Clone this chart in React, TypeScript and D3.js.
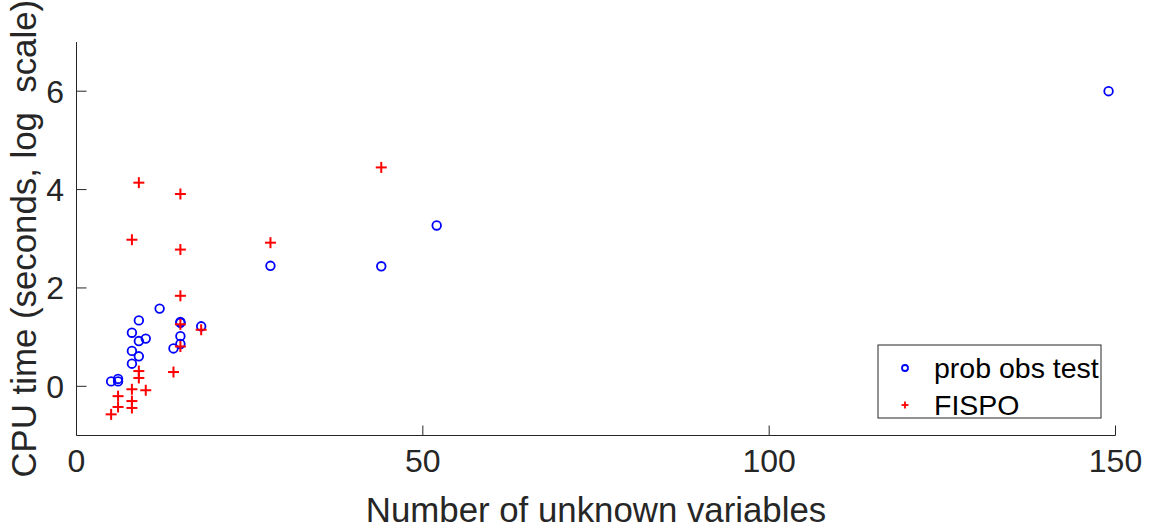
import React from "react";
import * as d3 from "d3";

const probX = [5, 6, 6, 8, 8, 8, 9, 9, 9, 10, 12, 14, 15, 15, 15, 15, 18, 28, 44, 52, 149];
const probY = [0.10, 0.15, 0.10, 1.09, 0.72, 0.46, 1.34, 0.92, 0.61, 0.97, 1.58, 0.77, 1.31, 1.29, 1.02, 0.86, 1.22, 2.45, 2.44, 3.27, 6.0];

const fispoX = [5, 6, 6, 8, 8, 8, 8, 9, 9, 9, 10, 14, 15, 15, 15, 15, 15, 18, 28, 44];
const fispoY = [-0.57, -0.2, -0.42, 2.98, -0.06, -0.3, -0.44, 4.14, 0.31, 0.17, -0.08, 0.29, 3.91, 2.78, 1.84, 1.26, 0.81, 1.15, 2.92, 4.45];

const xTicks = [0, 50, 100, 150];
const yTicks = [0, 2, 4, 6];
const legendLabels = ["prob obs test", "FISPO"];

const W = 1151;
const H = 530;
const L = 76.5, R = 1115.5, T = 42, B = 435.5;
const axisColor = "#262626";
const font = "'Liberation Sans', Arial, Helvetica, sans-serif";

export default function App() {
  const x = d3.scaleLinear().domain([0, 150]).range([L, R]);
  const y = d3.scaleLinear().domain([-1, 7]).range([B, T]);
  const pts1 = d3.zip(probX, probY);
  const pts2 = d3.zip(fispoX, fispoY);
  const ps = 5.5;
  const lx = 905;
  return (
    <svg width={W} height={H} style={{ position: "absolute", left: 0, top: 0 }} fontFamily={font}>
      <rect width={W} height={H} fill="#fff" />
      {/* axes */}
      <line x1={L} x2={L} y1={T} y2={B} stroke={axisColor} strokeWidth={1} />
      <line x1={L} x2={R} y1={B} y2={B} stroke={axisColor} strokeWidth={1} />
      {xTicks.map((t) => (
        <g key={"x" + t}>
          <line x1={x(t)} x2={x(t)} y1={B} y2={B - 10} stroke={axisColor} strokeWidth={1} />
          <text x={x(t)} y={472} textAnchor="middle" fontSize={32} fill={axisColor}>{t}</text>
        </g>
      ))}
      {yTicks.map((t) => (
        <g key={"y" + t}>
          <line x1={L} x2={L + 10} y1={y(t)} y2={y(t)} stroke={axisColor} strokeWidth={1} />
          <text x={64} y={y(t)} dy="0.36em" textAnchor="end" fontSize={32} fill={axisColor}>{t}</text>
        </g>
      ))}
      <text x={(L + R) / 2} y={522} textAnchor="middle" fontSize={34.8} fill={axisColor}>Number of unknown variables</text>
      <text transform={`translate(36,${(T + B) / 2}) rotate(-90)`} textAnchor="middle" fontSize={34.8} fill={axisColor} style={{ whiteSpace: "pre" }}>{"CPU time (seconds, log  scale)"}</text>
      {/* data */}
      {pts1.map(([a, b], i) => (
        <circle key={"c" + i} cx={x(a)} cy={y(b)} r={4.3} fill="none" stroke="#0000ff" strokeWidth={1.8} />
      ))}
      {pts2.map(([a, b], i) => (
        <g key={"p" + i} stroke="#ff0000" strokeWidth={2}>
          <line x1={x(a) - ps} x2={x(a) + ps} y1={y(b)} y2={y(b)} />
          <line x1={x(a)} x2={x(a)} y1={y(b) - ps} y2={y(b) + ps} />
        </g>
      ))}
      {/* legend */}
      <rect x={878} y={345} width={223} height={73} fill="#fff" stroke={axisColor} strokeWidth={1} />
      <circle cx={lx} cy={368} r={3} fill="none" stroke="#0000ff" strokeWidth={1.8} />
      <g stroke="#ff0000" strokeWidth={1.8}>
        <line x1={lx - 3.5} x2={lx + 3.5} y1={405} y2={405} />
        <line x1={lx} x2={lx} y1={401.5} y2={408.5} />
      </g>
      <text x={934} y={378} fontSize={28.5} fill="#000">{legendLabels[0]}</text>
      <text x={934} y={415} fontSize={28.5} fill="#000">{legendLabels[1]}</text>
    </svg>
  );
}
